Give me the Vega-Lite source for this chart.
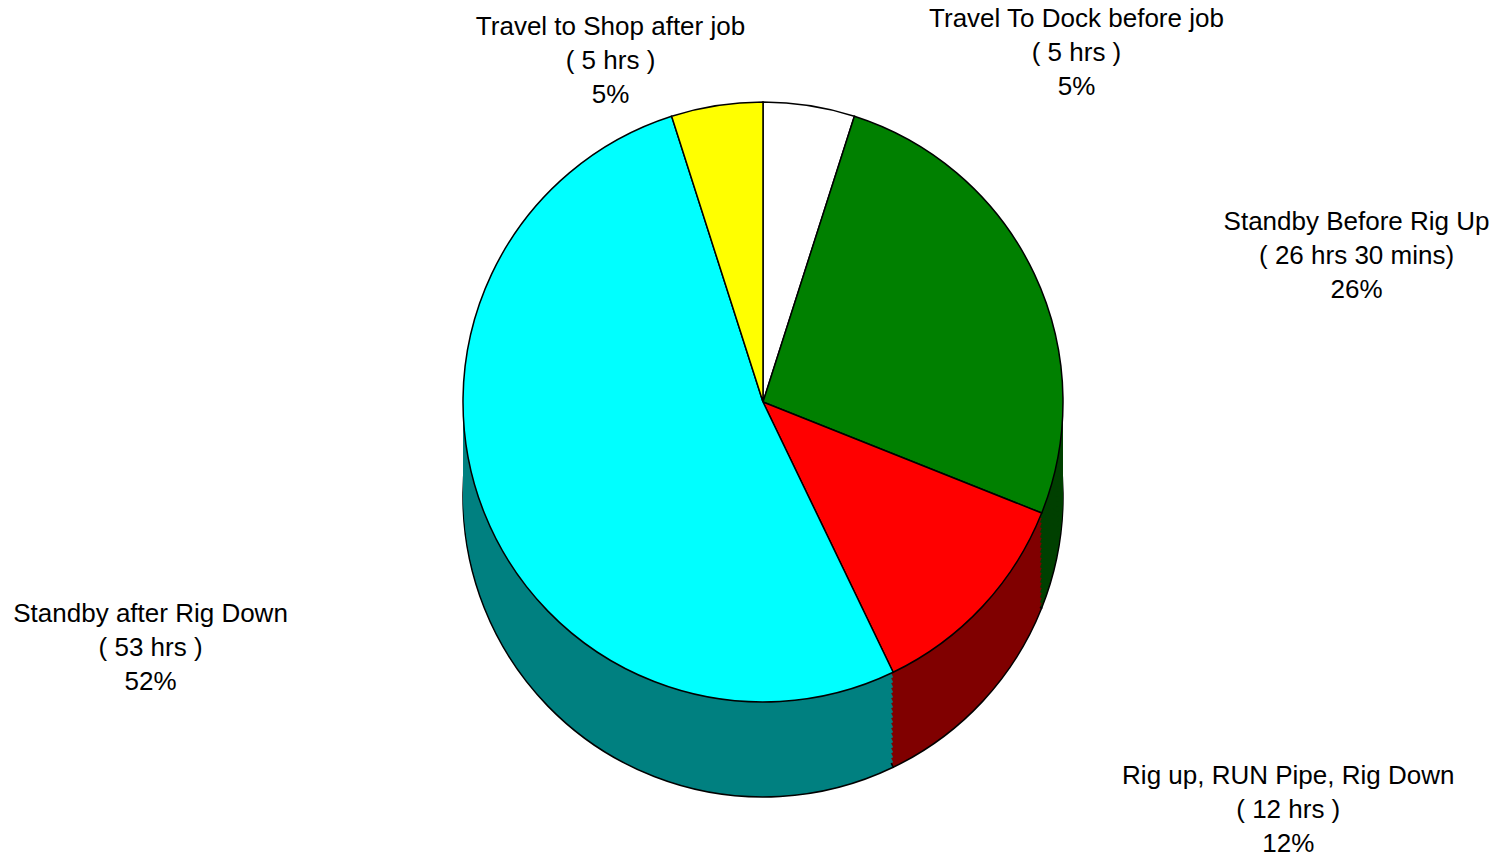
{
  "$schema": "https://vega.github.io/schema/vega-lite/v6.json",
  "width": 1484,
  "height": 804,
  "autosize": {"type": "none"},
  "padding": {"left": 21, "top": 0, "right": 0, "bottom": 53},
  "background": "white",
  "config": {"view": {"stroke": null}},
  "data": {
    "values": [
      {"k": 1, "cat": "Travel To Dock before job", "hrs": 5, "label": "Travel To Dock before job\n( 5 hrs )\n5%"},
      {"k": 2, "cat": "Standby Before Rig Up", "hrs": 26.5, "label": "Standby Before Rig Up\n( 26 hrs 30 mins)\n26%"},
      {"k": 3, "cat": "Rig up, RUN Pipe, Rig Down", "hrs": 12, "label": "Rig up, RUN Pipe, Rig Down\n( 12 hrs )\n12%"},
      {"k": 4, "cat": "Standby after Rig Down", "hrs": 53, "label": "Standby after Rig Down\n( 53 hrs )\n52%"},
      {"k": 5, "cat": "Travel to Shop after job", "hrs": 5, "label": "Travel to Shop after job\n( 5 hrs )\n5%"}
    ]
  },
  "encoding": {
    "theta": {"field": "hrs", "type": "quantitative", "stack": true},
    "order": {"field": "k", "type": "quantitative"}
  },
  "layer": [
    {
      "encoding": {
        "color": {
          "field": "cat", "type": "nominal", "legend": null,
          "scale": {
            "domain": ["Travel To Dock before job", "Standby Before Rig Up", "Rig up, RUN Pipe, Rig Down", "Standby after Rig Down", "Travel to Shop after job"],
            "range": ["#808080", "#004000", "#800000", "#008080", "#808000"]
          }
        }
      },
      "layer": [
        {"mark": {"type": "arc", "radius": 300, "yOffset": 95, "stroke": "black", "strokeWidth": 1.5}},
        {"mark": {"type": "arc", "radius": 300, "yOffset": 90}},
        {"mark": {"type": "arc", "radius": 300, "yOffset": 85}},
        {"mark": {"type": "arc", "radius": 300, "yOffset": 80}},
        {"mark": {"type": "arc", "radius": 300, "yOffset": 75}},
        {"mark": {"type": "arc", "radius": 300, "yOffset": 70}},
        {"mark": {"type": "arc", "radius": 300, "yOffset": 65}},
        {"mark": {"type": "arc", "radius": 300, "yOffset": 60}},
        {"mark": {"type": "arc", "radius": 300, "yOffset": 55}},
        {"mark": {"type": "arc", "radius": 300, "yOffset": 50}},
        {"mark": {"type": "arc", "radius": 300, "yOffset": 45}},
        {"mark": {"type": "arc", "radius": 300, "yOffset": 40}},
        {"mark": {"type": "arc", "radius": 300, "yOffset": 35}},
        {"mark": {"type": "arc", "radius": 300, "yOffset": 30}},
        {"mark": {"type": "arc", "radius": 300, "yOffset": 25}},
        {"mark": {"type": "arc", "radius": 300, "yOffset": 20}},
        {"mark": {"type": "arc", "radius": 300, "yOffset": 15}},
        {"mark": {"type": "arc", "radius": 300, "yOffset": 10}},
        {"mark": {"type": "arc", "radius": 300, "yOffset": 5}}
      ]
    },
    {
      "mark": {"type": "arc", "radius": 300, "stroke": "black", "strokeWidth": 1.5},
      "encoding": {
        "color": {
          "field": "cat", "type": "nominal", "legend": null,
          "scale": {
            "domain": ["Travel To Dock before job", "Standby Before Rig Up", "Rig up, RUN Pipe, Rig Down", "Standby after Rig Down", "Travel to Shop after job"],
            "range": ["#ffffff", "#008000", "#ff0000", "#00ffff", "#ffff00"]
          }
        }
      }
    },
    {
      "mark": {"type": "text", "radius": 360, "dx": 258, "dy": -27, "font": "Liberation Sans", "fontSize": 26, "lineHeight": 34, "lineBreak": "\n", "align": "center", "baseline": "middle", "color": "black"},
      "encoding": {"text": {"field": "label", "condition": {"test": "datum.k != 1", "value": ""}}}
    },
    {
      "mark": {"type": "text", "radius": 360, "dx": 268, "dy": -26, "font": "Liberation Sans", "fontSize": 26, "lineHeight": 34, "lineBreak": "\n", "align": "center", "baseline": "middle", "color": "black"},
      "encoding": {"text": {"field": "label", "condition": {"test": "datum.k != 2", "value": ""}}}
    },
    {
      "mark": {"type": "text", "radius": 360, "dx": 262, "dy": 128, "font": "Liberation Sans", "fontSize": 26, "lineHeight": 34, "lineBreak": "\n", "align": "center", "baseline": "middle", "color": "black"},
      "encoding": {"text": {"field": "label", "condition": {"test": "datum.k != 3", "value": ""}}}
    },
    {
      "mark": {"type": "text", "radius": 360, "dx": -278, "dy": 79, "font": "Liberation Sans", "fontSize": 26, "lineHeight": 34, "lineBreak": "\n", "align": "center", "baseline": "middle", "color": "black"},
      "encoding": {"text": {"field": "label", "condition": {"test": "datum.k != 4", "value": ""}}}
    },
    {
      "mark": {"type": "text", "radius": 360, "dx": -97, "dy": -19, "font": "Liberation Sans", "fontSize": 26, "lineHeight": 34, "lineBreak": "\n", "align": "center", "baseline": "middle", "color": "black"},
      "encoding": {"text": {"field": "label", "condition": {"test": "datum.k != 5", "value": ""}}}
    }
  ],
  "resolve": {"scale": {"color": "independent"}}
}
